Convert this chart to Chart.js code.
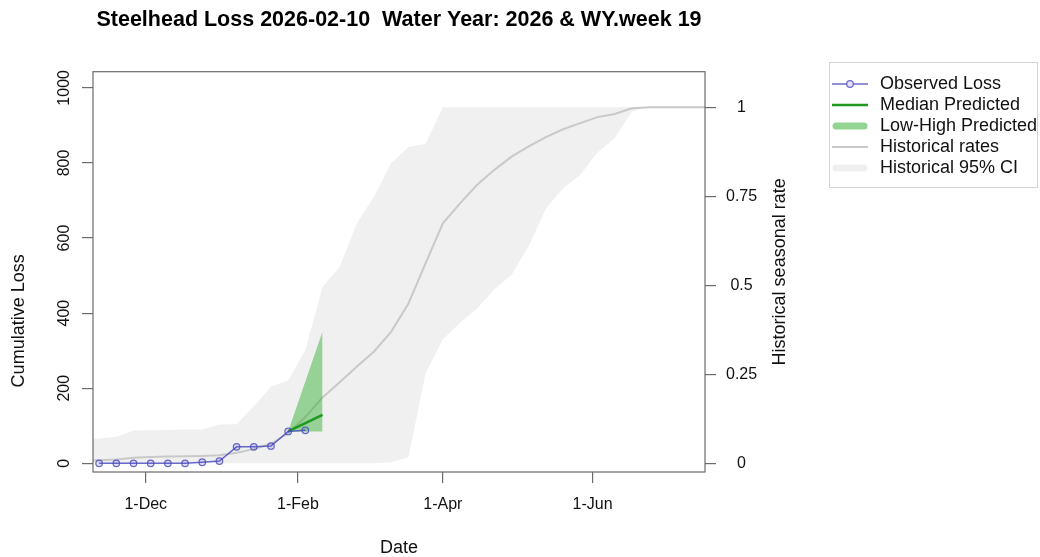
<!DOCTYPE html>
<html>
<head>
<meta charset="utf-8">
<title>Steelhead Loss</title>
<script src="https://cdn.jsdelivr.net/npm/chart.js@4.4.1/dist/chart.umd.min.js"></script>
<style>
  html, body { margin: 0; padding: 0; background: #fff; }
  #wrap { position: relative; width: 1040px; height: 557px; }
  #legend {
    position: absolute; left: 829px; top: 62px; width: 207px; height: 124px;
    border: 1px solid #d4d4d4; font: 18px "Liberation Sans", Arial, sans-serif; color: #111;
  }
  #legend ul { list-style: none; margin: 0; padding: 10px 0 0 0; }
  #legend li { height: 21px; display: flex; align-items: center; white-space: nowrap; }
  #legend canvas { margin: 0 12px 0 2px; }
</style>
</head>
<body>
<div id="wrap">
  <canvas id="lossChart"></canvas>
  <div id="legend"></div>
</div>
<script>
// observed weekly cumulative loss
const obsDates = ['2025-11-12', '2025-11-19', '2025-11-26', '2025-12-03', '2025-12-10', '2025-12-17',
  '2025-12-24', '2025-12-31', '2026-01-07', '2026-01-14', '2026-01-21', '2026-01-28', '2026-02-04'];
const obsLoss = [0, 0, 0, 0, 0, 0, 3, 6, 44, 44, 46, 85, 88];

// prediction to end of the week
const predDates = ['2026-01-28', '2026-02-11'];
const predMedian = [85, 129];
const predLow = [85, 85];
const predHigh = [85, 351];

// historical seasonal rates (share of season total)
const histDates = ['2025-11-05', '2025-11-12', '2025-11-19', '2025-11-26', '2025-12-03', '2025-12-10',
  '2025-12-17', '2025-12-24', '2025-12-31', '2026-01-07', '2026-01-14', '2026-01-21', '2026-01-28',
  '2026-02-04', '2026-02-11', '2026-02-18', '2026-02-25', '2026-03-04', '2026-03-11', '2026-03-18',
  '2026-03-25', '2026-04-01', '2026-04-08', '2026-04-15', '2026-04-22', '2026-04-29', '2026-05-06',
  '2026-05-13', '2026-05-20', '2026-05-27', '2026-06-03', '2026-06-10', '2026-06-17', '2026-06-24',
  '2026-07-01', '2026-07-08', '2026-07-15', '2026-07-22'];
const histRate = [0.008, 0.009, 0.011, 0.016, 0.018, 0.019, 0.020, 0.021, 0.023, 0.030, 0.040, 0.055,
  0.085, 0.130, 0.185, 0.228, 0.272, 0.314, 0.370, 0.449, 0.562, 0.674, 0.730, 0.782, 0.824, 0.861,
  0.890, 0.916, 0.938, 0.955, 0.972, 0.981, 0.997, 1, 1, 1, 1, 1];
const histHigh = [0.068, 0.070, 0.075, 0.092, 0.093, 0.094, 0.095, 0.095, 0.109, 0.110, 0.160, 0.215,
  0.232, 0.318, 0.496, 0.552, 0.674, 0.749, 0.843, 0.888, 0.897, 1, 1, 1, 1, 1,
  1, 1, 1, 1, 1, 1, 1, 1, 1, 1, 1, 1];
const histLow = [0, 0, 0, 0, 0, 0, 0, 0, 0, 0, 0, 0, 0, 0, 0, 0, 0, 0, 0.003, 0.017, 0.253, 0.348,
  0.395, 0.435, 0.489, 0.529, 0.610, 0.715, 0.772, 0.810, 0.873, 0.913, 0.988, 1, 1, 1, 1, 1];

// axes
const tickDates = ['2025-12-01', '2026-02-01', '2026-04-01', '2026-06-01'];
const tickLabels = ['1-Dec', '1-Feb', '1-Apr', '1-Jun'];
const lossTicks = [0, 200, 400, 600, 800, 1000];
const rateTicks = [0, 0.25, 0.5, 0.75, 1];

const X_MIN = 39.5, X_MAX = 288.8;          // days into water year
const LOSS_MIN = -23, LOSS_MAX = 1043;
const LOSS_PER_RATE = 948.6;                // rate 1 sits at this loss level

const AXIS_GRAY = '#6c6c6c';
const FONT = '"Liberation Sans", Arial, Helvetica, sans-serif';

const WY_START = Date.UTC(2025, 9, 1);
function wyDay(s) {
  const [y, m, d] = s.split('-').map(Number);
  return (Date.UTC(y, m - 1, d) - WY_START) / 86400000;
}
const toXY = (dates, vals) => dates.map((d, i) => ({ x: wyDay(d), y: vals[i] }));
const tickDays = tickDates.map(wyDay);

Chart.defaults.font.family = FONT;
Chart.defaults.color = '#111';

// html legend built from the datasets
const htmlLegend = {
  id: 'htmlLegend',
  afterUpdate(chart) {
    const box = document.getElementById('legend');
    const ul = document.createElement('ul');
    chart.data.datasets.forEach(ds => {
      if (!ds.label) return;
      const li = document.createElement('li');
      const sw = document.createElement('canvas');
      sw.width = 36; sw.height = 14;
      const c = sw.getContext('2d');
      c.lineCap = 'round';
      c.beginPath(); c.moveTo(ds.fill ? 4 : 0, 7); c.lineTo(ds.fill ? 32 : 36, 7);
      if (ds.fill) { c.strokeStyle = ds.legendColor; c.lineWidth = 7; }
      else { c.strokeStyle = ds.borderColor; c.lineWidth = ds.borderWidth; c.lineCap = 'butt'; }
      c.stroke();
      if (ds.pointRadius) {
        c.beginPath(); c.arc(18, 7, ds.pointRadius, 0, 2 * Math.PI);
        c.fillStyle = '#fff'; c.fill();
        c.fillStyle = ds.pointBackgroundColor; c.fill();
        c.lineWidth = ds.pointBorderWidth; c.strokeStyle = ds.pointBorderColor; c.stroke();
      }
      const span = document.createElement('span');
      span.textContent = ds.label;
      li.appendChild(sw); li.appendChild(span);
      ul.appendChild(li);
    });
    box.innerHTML = '';
    box.appendChild(ul);
  }
};

// box round the plot region + the two axis titles (R puts both reading upwards)
const frame = {
  id: 'frame',
  afterDraw(chart) {
    const { ctx, chartArea: a } = chart;
    const s2 = chart.scales.y2;
    ctx.save();
    ctx.strokeStyle = AXIS_GRAY;
    ctx.lineWidth = 1.2;
    ctx.strokeRect(a.left, a.top, a.right - a.left, a.bottom - a.top);
    ctx.font = '18px ' + FONT;
    ctx.fillStyle = '#111';
    ctx.textAlign = 'center';
    ctx.textBaseline = 'middle';
    ctx.save();
    ctx.translate(19, (a.top + a.bottom) / 2 + 49);
    ctx.rotate(-Math.PI / 2);
    ctx.fillText('Cumulative Loss', 0, 0);
    ctx.restore();
    ctx.translate(s2.left + 75, (s2.top + s2.bottom) / 2);
    ctx.rotate(-Math.PI / 2);
    ctx.fillText('Historical seasonal rate', 0, 0);
    ctx.restore();
  }
};

const tickGrid = { drawOnChartArea: false, drawTicks: true, tickLength: 11, color: AXIS_GRAY, lineWidth: 1.2 };

new Chart(document.getElementById('lossChart'), {
  type: 'line',
  data: {
    datasets: [
      {
        label: 'Observed Loss', data: toXY(obsDates, obsLoss), yAxisID: 'y',
        borderColor: 'rgba(70,70,190,0.8)', borderWidth: 1.5,
        pointRadius: 3.3, pointBorderWidth: 1.2,
        pointBorderColor: 'rgba(70,70,190,0.8)', pointBackgroundColor: 'rgba(70,70,190,0.15)'
      },
      {
        label: 'Median Predicted', data: toXY(predDates, predMedian), yAxisID: 'y',
        borderColor: '#1f991f', borderWidth: 2.5, pointRadius: 0
      },
      {
        label: 'Low-High Predicted', data: toXY(predDates, predHigh), yAxisID: 'y',
        borderColor: 'rgba(0,0,0,0)', borderWidth: 0, pointRadius: 0,
        backgroundColor: 'rgba(40,170,40,0.45)', fill: '+1', legendColor: 'rgba(40,170,40,0.5)'
      },
      {
        label: '', data: toXY(predDates, predLow), yAxisID: 'y',
        borderColor: 'rgba(0,0,0,0)', borderWidth: 0, pointRadius: 0, fill: false
      },
      {
        label: 'Historical rates', data: toXY(histDates, histRate), yAxisID: 'y2',
        borderColor: '#c9c9c9', borderWidth: 2, pointRadius: 0
      },
      {
        label: 'Historical 95% CI', data: toXY(histDates, histHigh), yAxisID: 'y2',
        borderColor: 'rgba(0,0,0,0)', borderWidth: 0, pointRadius: 0,
        backgroundColor: '#f0f0f0', fill: '+1', legendColor: '#efefef'
      },
      {
        label: '', data: toXY(histDates, histLow), yAxisID: 'y2',
        borderColor: 'rgba(0,0,0,0)', borderWidth: 0, pointRadius: 0, fill: false
      }
    ]
  },
  options: {
    responsive: true,
    maintainAspectRatio: false,
    animation: false,
    events: [],
    layout: { padding: { left: 0, right: 225, top: 0, bottom: 0 } },
    plugins: {
      legend: { display: false },
      tooltip: { enabled: false },
      title: {
        display: true, fullSize: false,
        text: 'Steelhead Loss 2026-02-10  Water Year: 2026 & WY.week 19',
        color: '#000', font: { size: 21.5, weight: 'bold' },
        padding: { top: 7, bottom: 38.9 }
      }
    },
    scales: {
      x: {
        type: 'linear', min: X_MIN, max: X_MAX,
        afterBuildTicks: s => { s.ticks = tickDays.map(v => ({ value: v })); },
        afterFit: s => { s.height = 85; },
        grid: tickGrid,
        border: { display: false },
        ticks: {
          autoSkip: false, maxRotation: 0, padding: 12, font: { size: 16 },
          callback: v => tickLabels[tickDays.indexOf(v)]
        },
        title: { display: true, text: 'Date', font: { size: 18, lineHeight: 1 }, padding: { top: 0, bottom: 0 } }
      },
      y: {
        position: 'left', min: LOSS_MIN, max: LOSS_MAX,
        afterBuildTicks: s => { s.ticks = lossTicks.map(v => ({ value: v })); },
        afterFit: s => { s.width = 93; },
        grid: tickGrid,
        border: { display: false },
        ticks: {
          minRotation: 90, maxRotation: 90, crossAlign: 'center', padding: 0, font: { size: 16 },
          callback: v => String(v)
        }
      },
      y2: {
        position: 'right',
        min: LOSS_MIN / LOSS_PER_RATE, max: LOSS_MAX / LOSS_PER_RATE,
        afterBuildTicks: s => { s.ticks = rateTicks.map(v => ({ value: v })); },
        afterFit: s => { s.width = 110; },
        grid: tickGrid,
        border: { display: false },
        ticks: { crossAlign: 'center', padding: 10, font: { size: 16 }, callback: v => String(v) }
      }
    }
  },
  plugins: [htmlLegend, frame]
});
</script>
</body>
</html>
